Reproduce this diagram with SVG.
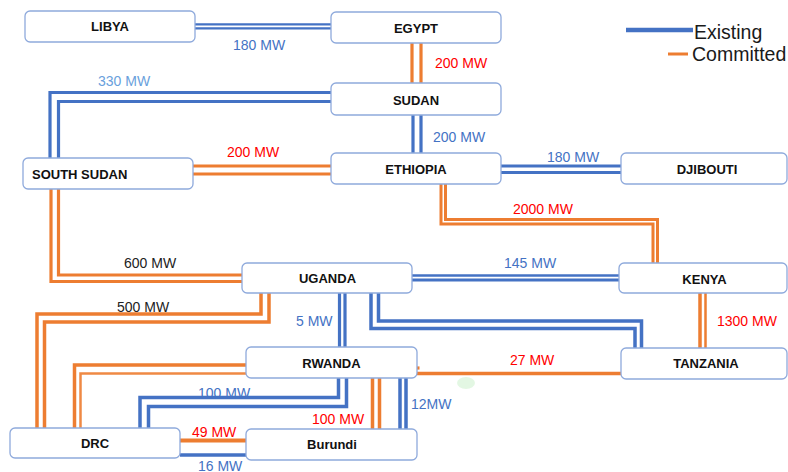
<svg xmlns="http://www.w3.org/2000/svg" width="788" height="472" viewBox="0 0 788 472">
<style>
.box{fill:#fff;stroke:#8faadc;stroke-width:1.3}
.nl{font-family:"Liberation Sans",Arial,sans-serif;font-weight:bold;font-size:13px;fill:#111;text-anchor:middle}
.lb{font-family:"Liberation Sans",Arial,sans-serif;font-size:14px}
.red{fill:#ff0000}
.blu{fill:#4472c4}
.lblu{fill:#6a9fdc}
.blk{fill:#222}
.b{fill:none;stroke:#4472c4;stroke-width:3.2}
.o{fill:none;stroke:#ed7d31;stroke-width:3.2}
.leg{font-family:"Liberation Sans",Arial,sans-serif;font-size:19.5px;fill:#1a1a1a}
</style>
<rect width="788" height="472" fill="#fff"/>
<ellipse cx="466" cy="383" rx="9" ry="6" fill="#dcf5dc" opacity="0.8"/>
<g id="connectors">
  <g id="labels">
    <text class="lb blu" x="233" y="50">180 MW</text>
    <text class="lb lblu" x="98" y="85.5">330 MW</text>
    <text class="lb red" x="435" y="68">200 MW</text>
    <text class="lb blu" x="433" y="141.5">200 MW</text>
    <text class="lb red" x="227" y="157">200 MW</text>
    <text class="lb blu" x="547" y="162">180 MW</text>
    <text class="lb red" x="513" y="214">2000 MW</text>
    <text class="lb blk" x="124" y="268">600 MW</text>
    <text class="lb blu" x="504" y="267.5">145 MW</text>
    <text class="lb blk" x="117" y="312">500 MW</text>
    <text class="lb blu" x="296" y="325.5">5 MW</text>
    <text class="lb red" x="717" y="326">1300 MW</text>
    <text class="lb red" x="510" y="364.5">27 MW</text>
    <text class="lb blu" x="198" y="398">100 MW</text>
    <text class="lb blu" x="411" y="409">12MW</text>
    <text class="lb red" x="312" y="424">100 MW</text>
    <text class="lb red" x="192" y="437">49 MW</text>
    <text class="lb blu" x="198" y="470.5">16 MW</text>
  </g>
  <!-- Libya - Egypt -->
  <path class="b" style="stroke-width:2.2" d="M195,24.3H331M195,28.3H331"/>
  <!-- Egypt - Sudan -->
  <path class="o" d="M412,43V83M421,43V83"/>
  <!-- Sudan - Ethiopia -->
  <path class="b" d="M413,115V153M421,115V153"/>
  <!-- Sudan - South Sudan -->
  <path class="b" d="M331,92.5H50V158M331,101.5H58.5V158"/>
  <!-- South Sudan - Ethiopia -->
  <path class="o" d="M193,166H331M193,174H331"/>
  <!-- Ethiopia - Djibouti -->
  <path class="b" d="M501,166H621M501,172.5H621"/>
  <!-- Ethiopia - Kenya -->
  <path class="o" style="stroke-width:3" d="M441,184V224H653V263M445.5,184V219.5H657.5V263"/>
  <!-- South Sudan - Uganda -->
  <path class="o" d="M51,189V281.5H242M58.5,189V275H242"/>
  <!-- Uganda - Kenya -->
  <path class="b" style="stroke-width:2.6" d="M412,275.5H619"/>
  <path class="b" d="M412,280H619"/>
  <!-- Uganda - DRC -->
  <path class="o" style="stroke-width:3.5" d="M261,293V314H37V428M269,293V322H44.5V428"/>
  <!-- Uganda - Rwanda -->
  <path class="b" d="M339.5,293V347M345,293V347"/>
  <!-- Uganda - Tanzania -->
  <path class="b" style="stroke-width:3.5" d="M371,293V328.5H635V348M378.5,293V321H641.5V348"/>
  <!-- Kenya - Tanzania -->
  <path class="o" style="stroke-width:3.5" d="M700,293V348"/>
  <path class="o" style="stroke-width:2.5" d="M705.5,293V348"/>
  <!-- Rwanda - Tanzania -->
  <path class="o" style="stroke-width:3.5" d="M417,373.5H621"/>
  <path class="o" d="M417,368H419.5"/>
  <!-- Rwanda - DRC (committed) -->
  <path class="o" style="stroke-width:3.5" d="M246,365H74.5V428"/>
  <path class="o" style="stroke-width:2.5;stroke:#ef8944" d="M246,373.5H80.5V428"/>
  <!-- Rwanda - DRC (existing) -->
  <path class="b" style="stroke-width:3.5" d="M338.5,378V397.5H140V428M346.5,378V406.5H148.5V428"/>
  <!-- Rwanda - Burundi -->
  <path class="o" style="stroke-width:3.5" d="M372.5,378V431M379.5,378V431"/>
  <path class="b" style="stroke-width:3.5" d="M400,378V429M406,378V429"/>
  <!-- DRC - Burundi -->
  <path class="o" style="stroke-width:4" d="M180,440.5H246"/>
  <path class="b" style="stroke-width:3.5" d="M180,455H246"/>
</g>
<g id="legend">
  <path d="M626,30H693" stroke="#4472c4" stroke-width="4.5"/>
  <text class="leg" x="694" y="39">Existing</text>
  <path d="M668,54H688" stroke="#ed7d31" stroke-width="3"/>
  <text class="leg" x="692" y="61">Committed</text>
</g>
<g id="libya"><rect class="box" x="25" y="11" width="170" height="31" rx="5"/><text class="nl" x="110" y="31">LIBYA</text></g>
<g id="egypt"><rect class="box" x="331" y="12" width="170" height="31" rx="5"/><text class="nl" x="416" y="32.5">EGYPT</text></g>
<g id="sudan"><rect class="box" x="331" y="83" width="170" height="32" rx="5"/><text class="nl" x="416" y="104.5">SUDAN</text></g>
<g id="ethiopia"><rect class="box" x="331" y="153" width="170" height="31" rx="5"/><text class="nl" x="416" y="174">ETHIOPIA</text></g>
<g id="south-sudan"><rect class="box" x="23" y="158" width="170" height="31" rx="5"/><text class="nl" x="32" y="179" style="text-anchor:start">SOUTH SUDAN</text></g>
<g id="djibouti"><rect class="box" x="621" y="153" width="166" height="31" rx="5"/><text class="nl" x="707" y="174">DJIBOUTI</text></g>
<g id="uganda"><rect class="box" x="242" y="263" width="170" height="30" rx="5"/><text class="nl" x="327.5" y="283">UGANDA</text></g>
<g id="kenya"><rect class="box" x="619" y="263" width="168" height="30" rx="5"/><text class="nl" x="704.5" y="284">KENYA</text></g>
<g id="rwanda"><rect class="box" x="246" y="347" width="171" height="31" rx="5"/><text class="nl" x="331.5" y="368">RWANDA</text></g>
<g id="tanzania"><rect class="box" x="621" y="348" width="166" height="31" rx="5"/><text class="nl" x="706" y="368">TANZANIA</text></g>
<g id="drc"><rect class="box" x="10" y="428" width="170" height="30" rx="5"/><text class="nl" x="95" y="448">DRC</text></g>
<g id="burundi"><rect class="box" x="246" y="429" width="171" height="31" rx="5"/><text class="nl" x="332" y="449">Burundi</text></g>
</svg>
